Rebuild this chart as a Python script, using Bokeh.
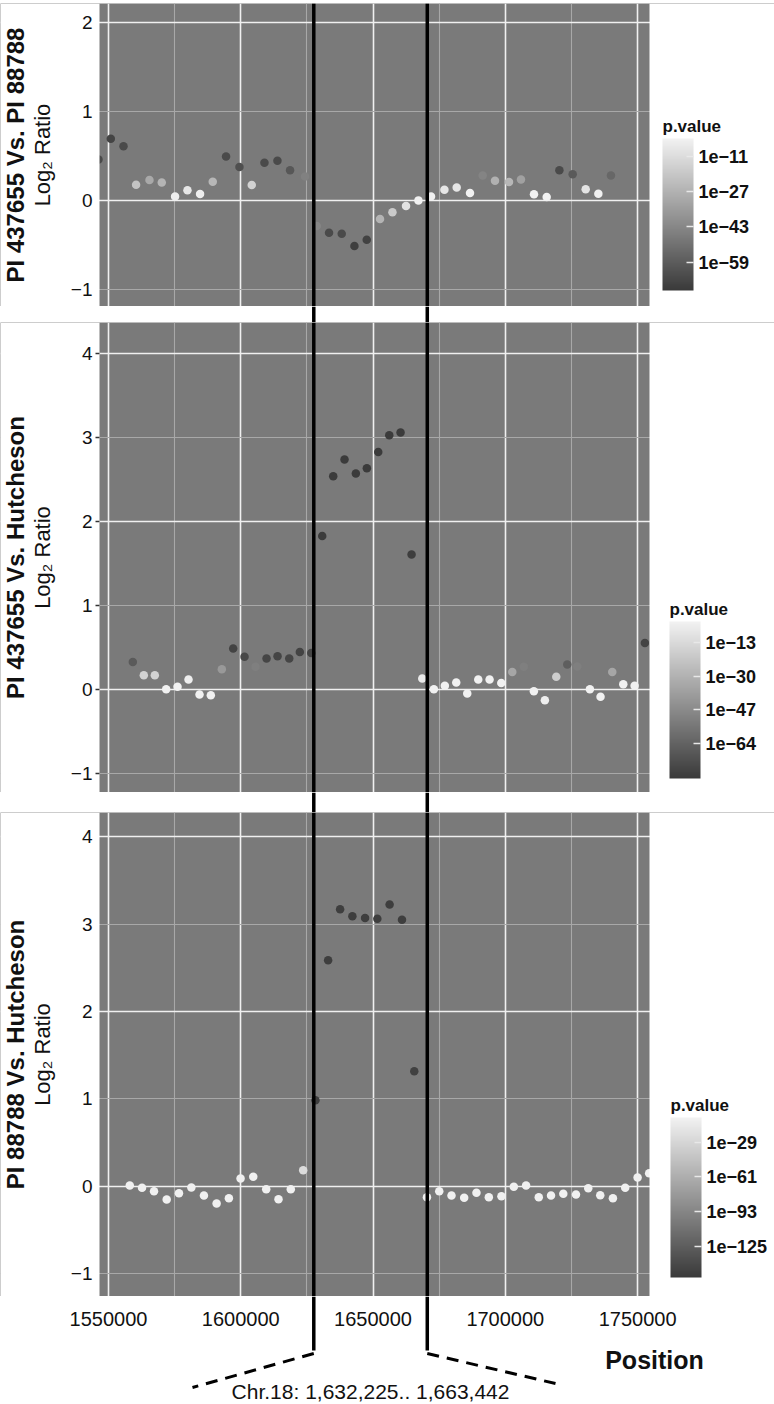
import numpy as np
from bokeh.plotting import figure
from bokeh.layouts import column
from bokeh.models import (Range1d, LinearAxis, FixedTicker, Span, ColorBar, AllLabels, BoxAnnotation,
                          LogColorMapper, Label, ColumnDataSource, BasicTickFormatter)
from bokeh.transform import transform
from bokeh.embed import file_html
from bokeh.resources import INLINE

FONT = "Liberation Sans"
BG = "#7a7a7a"
TXT = "#111111"

# ---------------- data ----------------
pos_ticks = [1550000, 1600000, 1650000, 1700000, 1750000]
pos_minor = [1575000, 1625000, 1675000, 1725000]

region = [1632225, 1663442]
region_marks = [1627600, 1670500]

# Panel 1 : PI 437655 Vs. PI 88788
p1_title = "PI 437655 Vs. PI 88788"
p1_pos = [1546220, 1550870, 1555670, 1560430, 1565490, 1570140, 1575170, 1579850,
          1584620, 1589410, 1594440, 1599500, 1604150, 1608950, 1613860, 1618630,
          1624300, 1628720, 1633370, 1638170, 1642960, 1647610, 1652640, 1657330,
          1662470, 1667150, 1671920, 1676980, 1681620, 1686650, 1691450, 1696100,
          1701390, 1705920, 1710840, 1715640, 1720440, 1725460, 1730380, 1735170,
          1739930]
p1_ratio = [0.46, 0.695, 0.61, 0.177, 0.23, 0.20, 0.045, 0.113,
            0.071, 0.21, 0.495, 0.375, 0.173, 0.424, 0.447, 0.338,
            0.27, -0.289, -0.364, -0.375, -0.514, -0.443, -0.21, -0.135,
            -0.064, 0.0, 0.045, 0.12, 0.146, 0.083, 0.28, 0.22,
            0.206, 0.236, 0.068, 0.038, 0.338, 0.293, 0.124, 0.075,
            0.28]
p1_pval = [1e-66, 1e-68, 1e-66, 1e-20, 1e-30, 1e-26, 1e-4, 1e-7,
           1e-4, 1e-25, 1e-66, 1e-64, 1e-15, 1e-66, 1e-66, 1e-61,
           1e-45, 1e-43, 1e-66, 1e-66, 1e-70, 1e-69, 1e-26, 1e-18,
           1e-9, 1e-3, 1e-3, 1e-7, 1e-7, 1e-3, 1e-44, 1e-27,
           1e-25, 1e-33, 1e-3, 1e-3, 1e-66, 1e-60, 1e-8, 1e-3,
           1e-55]
p1_yticks = [-1, 0, 1, 2]
p1_breaks = [1e-11, 1e-27, 1e-43, 1e-59]
p1_plim = [10 ** -72, 10 ** -2.6]

# Panel 2 : PI 437655 Vs. Hutcheson
p2_title = "PI 437655 Vs. Hutcheson"
p2_pos = [1559190, 1563350, 1567510, 1571810, 1576090, 1580250, 1584410, 1588680,
          1592840, 1597140, 1601420, 1605580, 1609740, 1613900, 1618320, 1622330,
          1626640, 1630790, 1634950, 1639220, 1643500, 1647660, 1651970, 1656130,
          1660400, 1664560, 1668600, 1672990, 1677140, 1681450, 1685610, 1689770,
          1694050, 1698470, 1702630, 1706990, 1710790, 1714950, 1719260, 1723420,
          1727200, 1731970, 1735990, 1740430, 1744590, 1748870, 1752760]
p2_ratio = [0.325, 0.167, 0.167, 0.0, 0.028, 0.115, -0.063, -0.071,
            0.238, 0.484, 0.385, 0.266, 0.365, 0.393, 0.365, 0.444,
            0.432, 1.825, 2.536, 2.734, 2.567, 2.631, 2.825, 3.024,
            3.056, 1.603, 0.127, 0.0, 0.04, 0.079, -0.052, 0.115,
            0.115, 0.075, 0.206, 0.266, -0.024, -0.131, 0.147, 0.294,
            0.27, 0.0, -0.091, 0.206, 0.06, 0.04, 0.551]
p2_pval = [1e-68, 1e-16, 1e-16, 1e-3, 1e-3, 1e-4, 1e-3, 1e-3,
           1e-41, 1e-78, 1e-76, 1e-52, 1e-77, 1e-77, 1e-77, 1e-78,
           1e-77, 1e-81, 1e-81, 1e-81, 1e-81, 1e-81, 1e-81, 1e-81,
           1e-81, 1e-80, 1e-6, 1e-3, 1e-3, 1e-3, 1e-3, 1e-3,
           1e-3, 1e-3, 1e-35, 1e-52, 1e-3, 1e-4, 1e-18, 1e-66,
           1e-52, 1e-3, 1e-3, 1e-35, 1e-3, 1e-3, 1e-78]
p2_yticks = [-1, 0, 1, 2, 3, 4]
p2_breaks = [1e-13, 1e-30, 1e-47, 1e-64]
p2_plim = [10 ** -81.8, 10 ** -2.3]

# Panel 3 : PI 88788 Vs. Hutcheson
p3_title = "PI 88788 Vs. Hutcheson"
p3_pos = [1558040, 1562680, 1567210, 1572000, 1576640, 1581320, 1586080, 1590870,
          1595510, 1599920, 1604720, 1609620, 1614260, 1618910, 1623590, 1628230,
          1633020, 1637550, 1642190, 1646980, 1651620, 1656260, 1660940, 1665580,
          1670380, 1675020, 1679660, 1684450, 1689090, 1693770, 1698530, 1703210,
          1707850, 1712640, 1717280, 1721920, 1726710, 1731350, 1735880, 1740670,
          1745320, 1750000, 1754370]
p3_ratio = [0.008, -0.018, -0.057, -0.152, -0.08, -0.015, -0.106, -0.198,
            -0.137, 0.088, 0.108, -0.034, -0.149, -0.034, 0.183, 0.984,
            2.586, 3.17, 3.09, 3.07, 3.06, 3.223, 3.05, 1.316,
            -0.126, -0.057, -0.106, -0.133, -0.076, -0.126, -0.114, -0.007,
            0.008, -0.126, -0.106, -0.087, -0.095, -0.023, -0.103, -0.137,
            -0.018, 0.1, 0.149]
p3_pval = [1e-8, 1e-8, 1e-8, 1e-8, 1e-8, 1e-8, 1e-8, 1e-8,
           1e-8, 1e-8, 1e-8, 1e-8, 1e-8, 1e-8, 1e-24, 1e-150,
           1e-150, 1e-150, 1e-150, 1e-150, 1e-150, 1e-150, 1e-150, 1e-148,
           1e-8, 1e-8, 1e-8, 1e-8, 1e-8, 1e-8, 1e-8, 1e-8,
           1e-8, 1e-8, 1e-8, 1e-8, 1e-8, 1e-8, 1e-8, 1e-8,
           1e-8, 1e-8, 1e-8]
p3_yticks = [-1, 0, 1, 2, 3, 4]
p3_breaks = [1e-29, 1e-61, 1e-93, 1e-125]
p3_plim = [1e-154, 1e-6]

# ---------------- layout / styling ----------------
W = 774                         # full drawing width (frame covers it all)
PANEL_L, PANEL_W = 99, 550      # grey panel offset and width inside the frame (px)
BP = 378.0                      # bp per pixel
XS = 1546600                    # panel left edge (bp)
XE = XS + PANEL_W * BP          # panel right edge (bp)
XR = Range1d(XS - PANEL_L * BP, XS + (W - PANEL_L) * BP)
PALETTE = ["#%02x%02x%02x" % (v, v, v) for v in np.linspace(58, 242, 256).round().astype(int)]


def exp_label(v):
    return "1e\u2212%d" % int(round(-np.log10(v)))


def base_fig(h, yr):
    p = figure(frame_width=W, frame_height=h, x_range=XR, y_range=yr,
               x_axis_location=None, y_axis_location=None,
               min_border_left=0, min_border_right=0, min_border_top=0, min_border_bottom=0,
               output_backend="svg", toolbar_location=None)
    p.background_fill_color = "white"
    p.border_fill_color = "white"
    p.outline_line_color = None
    return p


def add_marks(p):
    for m in region_marks:
        p.add_layout(Span(location=m, dimension="height", line_color="black", line_width=3.5))


def panel(h, ylim, yticks, ymaj, ymin, title, pos, ratio, pval, plim, breaks,
          cb_x, cb_y, cb_h, tick_col):
    p = base_fig(h, Range1d(*ylim))
    p.background_fill_color = BG
    p.xgrid.ticker = FixedTicker(ticks=pos_ticks, minor_ticks=pos_minor)
    p.ygrid.ticker = FixedTicker(ticks=ymaj, minor_ticks=ymin)
    for g in (p.xgrid, p.ygrid):
        g.grid_line_color = "#f0f0f0"
        g.grid_line_width = 1.6
        g.minor_grid_line_color = "#a8a8a8"
        g.minor_grid_line_width = 1.1

    mapper = LogColorMapper(palette=PALETTE, low=plim[0], high=plim[1])
    src = ColumnDataSource(dict(x=pos, y=ratio, p=pval))
    p.scatter("x", "y", source=src, size=8.5, fill_color=transform("p", mapper), line_color=None)

    # white margins around the grey panel
    p.add_layout(BoxAnnotation(right=XS, fill_color="white", fill_alpha=1, line_color=None,
                               level="annotation"))
    p.add_layout(BoxAnnotation(left=XE, fill_color="white", fill_alpha=1, line_color=None,
                               level="annotation"))

    yax = LinearAxis(ticker=FixedTicker(ticks=yticks), fixed_location=XS, axis_label="Log\u2082 Ratio",
                     axis_line_color=None, major_tick_line_color=tick_col, major_tick_line_width=1.5,
                     major_tick_in=0, major_tick_out=4, minor_tick_line_color=None,
                     minor_tick_in=0, minor_tick_out=0,
                     major_label_standoff=3, major_label_text_font=FONT,
                     major_label_text_font_size="19px", major_label_text_color=TXT,
                     axis_label_standoff=13, axis_label_text_font=FONT,
                     axis_label_text_font_size="22px", axis_label_text_font_style="normal",
                     axis_label_text_color=TXT)
    yax.level = "overlay"
    p.add_layout(yax, "left")

    p.add_layout(Label(x=15, y=h / 2, x_units="screen", y_units="screen", text=title,
                       angle=np.pi / 2, text_align="center", text_baseline="middle",
                       text_font=FONT, text_font_size="24px", text_font_style="bold",
                       text_color=TXT))

    cb = ColorBar(color_mapper=mapper, ticker=FixedTicker(ticks=breaks),
                  major_label_overrides={b: exp_label(b) for b in breaks},
                  major_label_policy=AllLabels(), orientation="vertical",
                  width=31, height=cb_h, location=(cb_x, cb_y), padding=0, margin=0,
                  major_label_text_font=FONT, major_label_text_font_size="18px",
                  major_label_text_font_style="bold", major_label_text_color=TXT,
                  label_standoff=5, major_tick_line_color="#e8e8e8", major_tick_line_width=1.5,
                  major_tick_in=7, major_tick_out=0, minor_tick_line_color=None,
                  bar_line_color=None, border_line_color=None, background_fill_color=None)
    p.add_layout(cb, "center")
    p.add_layout(Label(x=cb_x, y=cb_y + cb_h + 3, x_units="screen", y_units="screen",
                       text="p.value", text_align="left", text_baseline="bottom",
                       text_font=FONT, text_font_size="17px", text_font_style="bold",
                       text_color=TXT))
    add_marks(p)
    return p


def gap(h):
    g = base_fig(h, Range1d(0, 1))
    g.grid.visible = False
    add_marks(g)
    return g


g0 = gap(3)
f1 = panel(303, (-1.195, 2.217), p1_yticks, [0, 2], [-1, 1], p1_title,
           p1_pos, p1_ratio, p1_pval, p1_plim, p1_breaks, 662, 16, 152, None)
g1 = gap(16)
f2 = panel(470, (-1.23, 4.366), p2_yticks, [0, 2, 4], [-1, 1, 3], p2_title,
           p2_pos, p2_ratio, p2_pval, p2_plim, p2_breaks, 669, 14, 157, "#333333")
g2 = gap(20)
f3 = panel(484, (-1.262, 4.276), p3_yticks, [0, 2, 4], [-1, 1, 3], p3_title,
           p3_pos, p3_ratio, p3_pval, p3_plim, p3_breaks, 670, 19, 160, None)

# bottom annotation strip (x axis labels, zoom-region marker)
ANN_H = 108
LINE_END, DASH_START = 54, 51
f4 = base_fig(ANN_H, Range1d(0, ANN_H))
f4.grid.visible = False
xax = LinearAxis(ticker=FixedTicker(ticks=pos_ticks), formatter=BasicTickFormatter(use_scientific=False),
                 fixed_location=ANN_H, axis_line_color=None, major_tick_line_color=None,
                 major_tick_in=0, major_tick_out=0, minor_tick_line_color=None,
                 minor_tick_in=0, minor_tick_out=0, major_label_standoff=15,
                 major_label_text_font=FONT, major_label_text_font_size="20px",
                 major_label_text_color=TXT)
f4.add_layout(xax, "below")
f4.segment(x0=region_marks, y0=[ANN_H] * 2, x1=region_marks, y1=[LINE_END] * 2,
           line_color="black", line_width=3.5)
dash_end_x = [1581750, 1718970]
dash_end_y = [17, 21]
f4.segment(x0=region_marks, y0=[DASH_START] * 2, x1=dash_end_x, y1=dash_end_y,
           line_color="black", line_width=3, line_dash="12 8")
f4.add_layout(Label(x=sum(region_marks) / 2, y=2,
                    text="Chr.18: %s.. %s" % (format(region[0], ","), format(region[1], ",")),
                    text_align="center", text_baseline="bottom", text_font=FONT,
                    text_font_size="21px", text_color=TXT))
f4.add_layout(Label(x=654, y=45, x_units="screen", y_units="screen", text="Position",
                    text_align="center", text_baseline="middle", text_font=FONT,
                    text_font_size="25px", text_font_style="bold", text_color=TXT))

layout = column(g0, f1, g1, f2, g2, f3, f4)
open("out.html", "w").write(file_html(layout, INLINE))
